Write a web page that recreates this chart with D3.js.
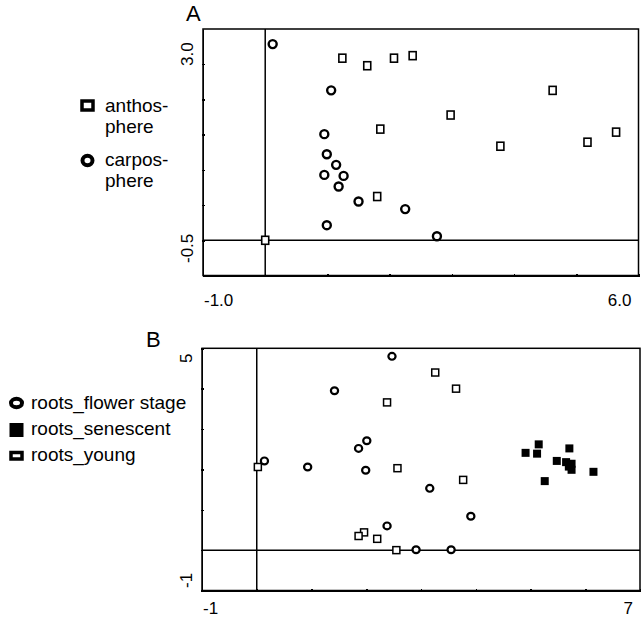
<!DOCTYPE html>
<html>
<head>
<meta charset="utf-8">
<script src="https://d3js.org/d3.v7.min.js"></script>
<style>
 body { margin:0; background:#fff; }
 text { font-family: "Liberation Sans", Arial, sans-serif; fill:#000; }
 .lbl { font-size:17px; }
 .leg { font-size:19px; }
 .ttl { font-size:22px; }
 .axis path, .axis line { stroke:#000; stroke-width:1.5px; shape-rendering:crispEdges; }
</style>
</head>
<body>
<div id="chart"></div>
<script>
// panel A
var anthoX = [1.24, 1.64, 2.07, 2.37, 4.62, 2.98, 1.85, 3.78, 5.18, 5.64, 1.80, 0.0];
var anthoY = [3.12, 2.97, 3.12, 3.17, 2.48, 1.99, 1.71, 1.37, 1.45, 1.65, 0.37, -0.5];
var carpoX = [0.12, 1.06, 0.95, 0.99, 1.14, 0.95, 1.26, 1.18, 1.50, 2.25, 0.99, 2.76];
var carpoY = [3.40, 2.48, 1.61, 1.21, 1.00, 0.80, 0.78, 0.57, 0.27, 0.12, -0.20, -0.42];
// panel B
var flowerX = [2.47, 1.42, 2.01, 1.86, 0.14, 0.93, 1.99, 3.16, 3.91, 2.38, 2.91, 3.55];
var flowerY = [4.80, 3.95, 2.71, 2.52, 2.21, 2.06, 1.98, 1.53, 0.84, 0.60, 0.01, 0.01];
var senesX = [5.15, 4.91, 5.12, 5.71, 5.48, 5.65, 5.75, 5.75, 6.15, 5.26, 5.70];
var senesY = [2.62, 2.41, 2.39, 2.52, 2.21, 2.18, 2.14, 1.99, 1.94, 1.71, 2.07];
var youngX = [3.26, 3.64, 2.38, 0.02, 2.57, 3.77, 1.96, 1.86, 2.20, 2.55];
var youngY = [4.40, 4.00, 3.66, 2.06, 2.03, 1.74, 0.44, 0.35, 0.28, 0.00];

var svg = d3.select("#chart").append("svg")
  .attr("width", 641).attr("height", 617);

function panel(o) {
  var x = d3.scaleLinear().domain(o.xd).range(o.xr);
  var y = d3.scaleLinear().domain(o.yd).range(o.yr);
  var g = svg.append("g");

  g.append("g").attr("class","axis")
    .attr("transform","translate(0,"+o.yr[0]+")")
    .call(d3.axisBottom(x).tickValues(o.xt).tickSize(3).tickSizeOuter(0).tickFormat(""))
    .selectAll(".tick line").attr("y1",-1.5).attr("y2",1.5);
  g.append("g").attr("class","axis")
    .attr("transform","translate("+o.xr[0]+",0)")
    .call(d3.axisLeft(y).tickValues(o.yt).tickSize(3).tickSizeOuter(0).tickFormat(""))
    .selectAll(".tick line").attr("x1",-1.5).attr("x2",1.5);

  g.append("rect")
    .attr("x", o.xr[0]).attr("y", o.yr[1])
    .attr("width", o.xr[1]-o.xr[0]).attr("height", o.yr[0]-o.yr[1])
    .attr("fill","none").attr("stroke","#000").attr("stroke-width",1.5);
  // zero lines
  g.append("line").attr("x1", x(0)).attr("x2", x(0)).attr("y1", o.yr[1]).attr("y2", o.yr[0])
    .attr("stroke","#000").attr("stroke-width",1.5);
  g.append("line").attr("x1", o.xr[0]).attr("x2", o.xr[1]).attr("y1", y(o.hz)).attr("y2", y(o.hz))
    .attr("stroke","#000").attr("stroke-width",1.5);

  // end labels
  g.append("text").attr("class","lbl").attr("x", x(o.xd[0])+1).attr("y", o.yr[0]+o.xlOff).text(o.xl[0]);
  g.append("text").attr("class","lbl").attr("text-anchor","end").attr("x", x(o.xd[1])-7).attr("y", o.yr[0]+o.xlOff).text(o.xl[1]);
  o.ylPos.forEach(function(p, i) {
    g.append("text").attr("class","lbl")
      .attr("transform","translate("+(o.xr[0]-10)+","+p+") rotate(-90)").text(o.yl[i]);
  });
  g.append("text").attr("class","ttl").attr("x", o.title[1]).attr("y", o.title[2]).text(o.title[0]);
  return {x:x, y:y, g:g};
}

// ---- A ----
var A = panel({xd:[-1,6], xr:[203,638.5], yd:[-1.2,3.7], yr:[275.5,29],
  xt:d3.range(-1,6.01,1), yt:[3.0,2.3,1.6,0.9,0.2,-0.5], hz:-0.5,
  xl:["-1.0","6.0"], xlOff:30.5, yl:["3.0","-0.5"], ylPos:[66,263], title:["A",186,21]});

A.g.selectAll(".antho").data(anthoX).enter().append("rect")
  .attr("x", function(d){ return A.x(d)-3.5; })
  .attr("y", function(d,i){ return A.y(anthoY[i])-4; })
  .attr("width",7).attr("height",8)
  .attr("fill","#fff").attr("stroke","#000").attr("stroke-width",1.6);
A.g.selectAll(".carpo").data(carpoX).enter().append("ellipse")
  .attr("cx", function(d){ return A.x(d); })
  .attr("cy", function(d,i){ return A.y(carpoY[i]); })
  .attr("rx",4).attr("ry",4)
  .attr("fill","#fff").attr("stroke","#000").attr("stroke-width",2.4);

// legend A
var lg = svg.append("g");
lg.append("rect").attr("x",82).attr("y",101).attr("width",11).attr("height",9)
  .attr("fill","#fff").attr("stroke","#000").attr("stroke-width",3.5);
lg.append("ellipse").attr("cx",87.5).attr("cy",160.5).attr("rx",5).attr("ry",4.8)
  .attr("fill","#fff").attr("stroke","#000").attr("stroke-width",4);
[["anthos-",112],["phere",133],["carpos-",166],["phere",187]].forEach(function(t){
  lg.append("text").attr("class","leg").attr("x",105).attr("y",t[1]).text(t[0]);
});

// ---- B ----
var B = panel({xd:[-1,7], xr:[202,640], yd:[-1,5], yr:[590.5,348.3],
  xt:d3.range(-1,7.01,1), yt:d3.range(-1,5.01,1), hz:0,
  xl:["-1","7"], xlOff:23.5, yl:["5","-1"], ylPos:[363,588], title:["B",146,347]});

B.g.selectAll(".young").data(youngX).enter().append("rect")
  .attr("x", function(d){ return B.x(d)-3.5; })
  .attr("y", function(d,i){ return B.y(youngY[i])-3.5; })
  .attr("width",7).attr("height",7)
  .attr("fill","#fff").attr("stroke","#000").attr("stroke-width",1.5);
B.g.selectAll(".senes").data(senesX).enter().append("rect")
  .attr("x", function(d){ return B.x(d)-4; })
  .attr("y", function(d,i){ return B.y(senesY[i])-4; })
  .attr("width",8).attr("height",8).attr("fill","#000");
B.g.selectAll(".flower").data(flowerX).enter().append("ellipse")
  .attr("cx", function(d){ return B.x(d); })
  .attr("cy", function(d,i){ return B.y(flowerY[i]); })
  .attr("rx",3.6).attr("ry",3.4)
  .attr("fill","#fff").attr("stroke","#000").attr("stroke-width",2.2);

// legend B
var lb = svg.append("g");
lb.append("ellipse").attr("cx",16.5).attr("cy",403).attr("rx",5.5).attr("ry",4.2)
  .attr("fill","#fff").attr("stroke","#000").attr("stroke-width",4);
lb.append("rect").attr("x",9.5).attr("y",423).attr("width",14).attr("height",14).attr("fill","#000");
lb.append("rect").attr("x",11).attr("y",452.5).attr("width",11).attr("height",6.5)
  .attr("fill","#fff").attr("stroke","#000").attr("stroke-width",3.5);
[["roots_flower stage",409],["roots_senescent",435],["roots_young",461]].forEach(function(t){
  lb.append("text").attr("class","leg").attr("x",31).attr("y",t[1]).text(t[0]);
});
</script>
</body>
</html>
